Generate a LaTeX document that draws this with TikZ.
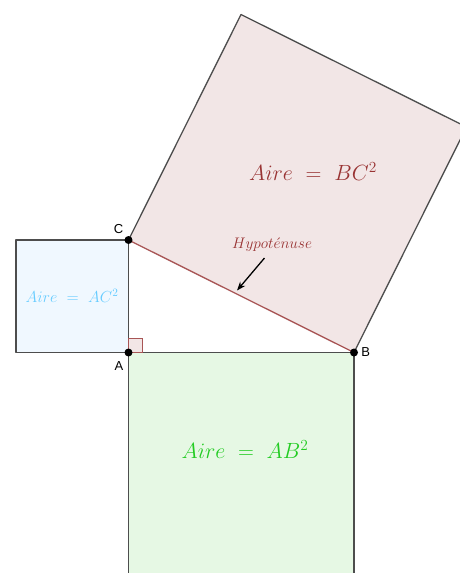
\RequirePackage{fix-cm}
\documentclass[tikz,border=0pt]{standalone}
\usepackage{fontspec}
\usepackage{tikz}
\usetikzlibrary{arrows.meta,positioning,calc}
\newfontfamily\labfont{Liberation Sans}
\definecolor{Wine}{HTML}{993333}
\definecolor{PaleRose}{HTML}{F2E6E6}
\definecolor{SkyText}{HTML}{66CCFF}
\definecolor{PaleSky}{HTML}{F0F8FF}
\definecolor{Leaf}{HTML}{22CC22}
\definecolor{PaleLeaf}{HTML}{E6F8E4}
\definecolor{Edge}{HTML}{4D4D4D}
\definecolor{HypLine}{HTML}{A85555}

\begin{document}
\begin{tikzpicture}[x=1pt, y=-1pt, >=Stealth]
\tikzset{side/.style={draw=Edge, line width=1.3pt, line join=round}, pt/.style={circle, fill=black, inner sep=0pt, minimum size=8pt}, lab/.style={font=\labfont\fontsize{13}{13}\selectfont, text=black, inner sep=1pt}, aire/.style={font=\fontsize{22}{22}\selectfont}}
\clip (0,0) rectangle (460,573);
\coordinate (A) at (128.5,352.5);
\coordinate (B) at (354,352.5);
\coordinate (C) at (128.5,240);
\coordinate (ACl) at (16,240);
\coordinate (ACb) at (16,352.5);
\coordinate (ABl) at (128.5,578);
\coordinate (ABr) at (354,578);
\coordinate (BCt) at ($(C)!1!90:(B)$);
\coordinate (BCr) at ($(B)!1!-90:(C)$);
% carres
\draw[side, fill=PaleSky] (C) -- (ACl) -- (ACb) -- (A) -- cycle;
\draw[side, fill=PaleLeaf] (A) -- (ABl) -- (ABr) -- (B) -- cycle;
\draw[side, fill=PaleRose] (C) -- (BCt) -- (BCr) -- (B);
\draw[HypLine, line width=1.3pt] (B) -- (C);
\draw[HypLine, line width=1pt, fill=PaleRose] (A) rectangle ++(14,-14);
% aires
\node[aire, text=Wine] (aireBC) at (313,172) {$Aire\ =\ BC^2$};
\node[aire, text=Leaf] (aireAB) at (245,450) {$Aire\ =\ AB^2$};
\node[font=\fontsize{16}{16}\selectfont, text=SkyText] (aireAC) at (72,296) {$Aire\ =\ AC^2$};
\node[font=\fontsize{15.3}{15}\selectfont, text=Wine] (hyp) at (272,245) {$Hypot\acute{e}nuse$};
\coordinate (hs) at (264.5,258);
\coordinate (he) at (237,290.5);
\draw[->, line width=1.3pt] (hs) -- (he);
% points
\node[pt] (pA) at (A) {};
\node[pt] (pB) at (B) {};
\node[pt] (pC) at (C) {};
\node[lab, above left=2pt and 1pt of pC] (lC) {C};
\node[lab, below left=5pt and 1pt of pA] (lA) {A};
\node[lab, right=2pt of pB] (lB) {B};
\end{tikzpicture}
\end{document}
